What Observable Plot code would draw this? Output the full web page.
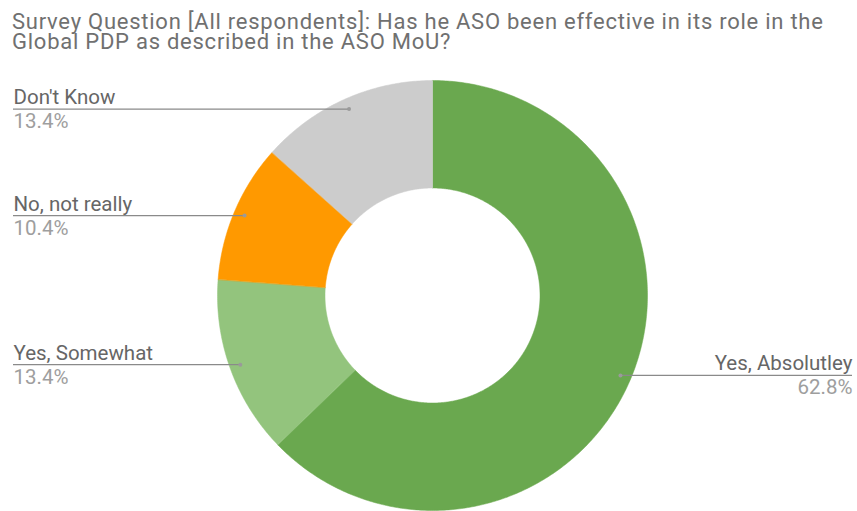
<!DOCTYPE html>
<html>
<head>
<meta charset="utf-8">
<script src="https://cdn.jsdelivr.net/npm/d3@7"></script>
<script src="https://cdn.jsdelivr.net/npm/@observablehq/plot@0.6"></script>
<style>
  html, body { margin: 0; padding: 0; background: #fff; }
  #wrap { width: 857px; height: 511px; overflow: hidden; }
  #title { box-sizing: border-box; height: 60px; padding: 12px 0 0 12px; font-family: Roboto, sans-serif; font-size: 22px; letter-spacing: 0.75px; line-height: 20px; color: #707070; white-space: nowrap; }
  svg { display: block; }
</style>
</head>
<body>
<div id="wrap">
  <div id="title">Survey Question [All respondents]: Has he ASO been effective in its role in the<br>Global PDP as described in the ASO MoU?</div>
  <div id="chart"></div>
</div>
<script>
const categories = ["Yes, Absolutley", "Yes, Somewhat", "No, not really", "Don't Know"];
const values = [62.8, 13.4, 10.4, 13.4];
const pctLabels = ["62.8%", "13.4%", "10.4%", "13.4%"];
const colors = ["#6aa84f", "#93c47d", "#ff9900", "#cccccc"];

const innerRatio = 0.5;
const pie = d3.pie().sort(null).value(d => d.value).startAngle(0).endAngle(2 * Math.PI);
const arcs = pie(categories.map((c, i) => ({cat: c, value: values[i], pct: pctLabels[i]})));

// slice outlines in data space (unit circle, y up)
const pts = [];
for (const a of arcs) {
  const n = Math.max(8, Math.ceil((a.endAngle - a.startAngle) / 0.01));
  for (let k = 0; k <= n; k++) {
    const t = a.startAngle + (a.endAngle - a.startAngle) * k / n;
    pts.push({cat: a.data.cat, x: Math.sin(t), y: Math.cos(t)});
  }
  for (let k = n; k >= 0; k--) {
    const t = a.startAngle + (a.endAngle - a.startAngle) * k / n;
    pts.push({cat: a.data.cat, x: innerRatio * Math.sin(t), y: innerRatio * Math.cos(t)});
  }
}

const xDomain = [-(432 - 13) / 215, (852 - 432) / 215];
const W = 857, H = 451;
const yDomain = [-(H - 235) / 215, 235 / 215];

const labels = arcs.map(a => {
  const m = (a.startAngle + a.endAngle) / 2;
  const r = 0.95;
  const x = r * Math.sin(m), y = r * Math.cos(m);
  return {cat: a.data.cat, pct: a.data.pct, x, y, right: x > 0, edge: x > 0 ? xDomain[1] : xDomain[0]};
});
const leftL = labels.filter(d => !d.right);
const rightL = labels.filter(d => d.right);

const chart = Plot.plot({
  width: W, height: H,
  marginLeft: 13, marginRight: 5, marginTop: 0, marginBottom: 0,
  x: {domain: xDomain, axis: null},
  y: {domain: yDomain, axis: null},
  color: {domain: categories, range: colors},
  style: {fontFamily: "Roboto, sans-serif", background: "#fff"},
  marks: [
    Plot.line(pts, {x: "x", y: "y", z: "cat", fill: "cat", stroke: "cat", strokeWidth: 0.5, curve: "linear-closed"}),
    Plot.ruleY(labels, {y: "y", x1: "x", x2: "edge", stroke: "#8a8a8a", strokeWidth: 1.2}),
    Plot.dot(labels, {x: "x", y: "y", r: 2, fill: "#9a9a9a", stroke: null}),
    Plot.text(leftL, {x: "edge", y: "y", text: "cat", textAnchor: "start", lineAnchor: "bottom", dy: -5, fontSize: 20.5, fill: "#666"}),
    Plot.text(leftL, {x: "edge", y: "y", text: "pct", textAnchor: "start", lineAnchor: "bottom", dy: 19, fontSize: 20.5, fill: "#9e9e9e"}),
    Plot.text(rightL, {x: "edge", y: "y", text: "cat", textAnchor: "end", lineAnchor: "bottom", dy: -5, fontSize: 20.5, fill: "#666"}),
    Plot.text(rightL, {x: "edge", y: "y", text: "pct", textAnchor: "end", lineAnchor: "bottom", dy: 19, fontSize: 20.5, fill: "#9e9e9e"})
  ]
});
document.getElementById("chart").appendChild(chart);
</script>
</body>
</html>
